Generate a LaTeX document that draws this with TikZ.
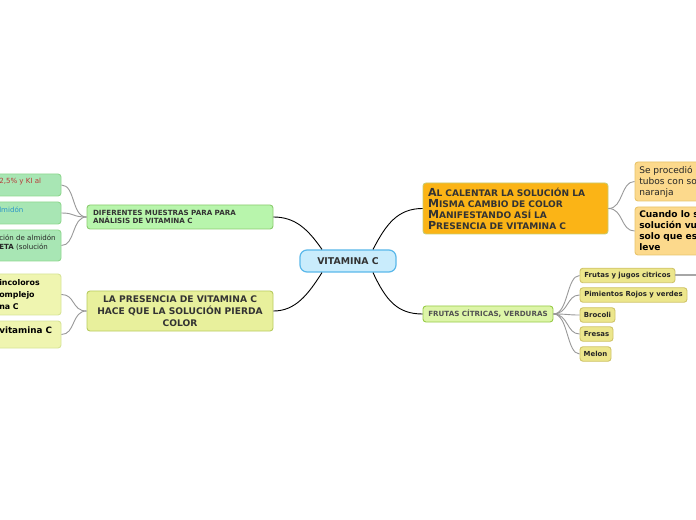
\documentclass[tikz,border=0pt]{standalone}
\usepackage{fontspec}
\setmainfont{DejaVu Sans}
\usetikzlibrary{calc}
\newdimen\px \px=0.75pt
\definecolor{vcfill}{HTML}{C9ECFC}\definecolor{vcdraw}{HTML}{5AB8EA}
\definecolor{diffill}{HTML}{B8F5AC}\definecolor{difdraw}{HTML}{8CCC70}
\definecolor{presfill}{HTML}{E8F09C}\definecolor{presdraw}{HTML}{B8CC60}
\definecolor{calfill}{HTML}{FBB416}\definecolor{caldraw}{HTML}{C8CC70}
\definecolor{frufill}{HTML}{DDF5A8}\definecolor{frudraw}{HTML}{98CC48}
\definecolor{fcfill}{HTML}{ECE68C}\definecolor{fcdraw}{HTML}{D0C468}
\definecolor{rcfill}{HTML}{FCD98C}\definecolor{rcdraw}{HTML}{E8C46A}
\definecolor{ldfill}{HTML}{A8E6B4}\definecolor{lddraw}{HTML}{90D890}
\definecolor{lpfill}{HTML}{EFF5B0}\definecolor{lpdraw}{HTML}{D8E498}
\definecolor{txt}{HTML}{333333}
\definecolor{redtxt}{HTML}{B83A3A}\definecolor{bluetxt}{HTML}{2A95C8}
\definecolor{subline}{HTML}{999999}
\newcommand\capA[1]{{\fontsize{8.3}{8}\selectfont #1}}
\tikzset{
  box/.style={rounded corners=3\px, line width=0.9\px, inner sep=0pt, text=txt, font=\bfseries},
  mainline/.style={line width=0.9\px, black},
  subl/.style={line width=0.9\px, subline},
  lbl/.style={inner sep=0pt, anchor=west, text=txt}
}
\begin{document}
\begin{tikzpicture}[x=0.75pt,y=-0.75pt]
\useasboundingbox (0,0) rectangle (696,520);
\fill[white] (0,0) rectangle (696,520);
\clip (0,0) rectangle (696,520);
% main nodes
\node[box, fill=vcfill, draw=vcdraw, line width=1.2\px, rounded corners=7\px, minimum width=96\px, minimum height=22\px, font=\fontsize{7}{8}\selectfont\bfseries] (vc) at (348,261) {VITAMINA C};
\node[box, fill=diffill, draw=difdraw, text width=174\px, inner xsep=6\px, minimum height=24\px, align=left, font=\fontsize{5.35}{6.6}\selectfont\bfseries] (dif) at (180,217) {DIFERENTES MUESTRAS PARA PARA\\ANÁLISIS DE VITAMINA C};
\node[box, fill=presfill, draw=presdraw, minimum width=186\px, minimum height=40\px, align=center, font=\fontsize{6.85}{9}\selectfont\bfseries] (pres) at (180,311) {LA PRESENCIA DE VITAMINA C\\HACE QUE LA SOLUCIÓN PIERDA\\COLOR};
\node[box, fill=calfill, draw=caldraw, text width=175\px, inner xsep=5\px, minimum height=51\px, align=left, text=txt, font=\fontsize{6.8}{8.25}\selectfont\bfseries] (cal) at (515.5,208.5) {\capA{A}L CALENTAR LA SOLUCIÓN LA\\\capA{M}ISMA CAMBIO DE COLOR\\\capA{M}ANIFESTANDO ASÍ LA\\\capA{P}RESENCIA DE VITAMINA C};
\node[box, fill=frufill, draw=frudraw, minimum width=130\px, minimum height=16\px, text=txt!85, font=\fontsize{5.35}{6}\selectfont\bfseries] (fru) at (488,314) {FRUTAS CÍTRICAS, VERDURAS};
% fruit children
\tikzset{fc/.style={box, fill=fcfill, draw=fcdraw, minimum height=14.5\px, text=black!85, font=\fontsize{5.2}{6}\selectfont\bfseries}}
\node[fc, minimum width=95\px] (f1) at (627.5,275.5) {Frutas y jugos citricos};
\node[fc, minimum width=107\px] (f2) at (633.5,295) {Pimientos Rojos y verdes};
\node[fc, minimum width=35\px] (f3) at (597.5,315) {Brocoli};
\node[fc, minimum width=33\px] (f4) at (596.5,334) {Fresas};
\node[fc, minimum width=31\px] (f5) at (595.5,354) {Melon};
\coordinate (f1out) at (710,275.5);
% right children (clipped)
\node[box, fill=rcfill, draw=rcdraw, minimum width=90\px, minimum height=39\px] (r1) at (680,181.5) {};
\node[box, fill=rcfill, draw=rcdraw, minimum width=90\px, minimum height=48\px] (r2) at (680,231) {};
\node[lbl, align=left, text=black!85, font=\fontsize{6.8}{8.25}\selectfont] (r1t) at (639,182) {Se procedió\\tubos con so\\naranja};
\node[lbl, align=left, text=black, font=\fontsize{6.8}{8.25}\selectfont\bfseries] (r2t) at (639,231) {Cuando lo s\\solución vu\\solo que es\\leve};
% left children of dif (clipped)
\node[box, fill=ldfill, draw=lddraw, minimum width=100\px, minimum height=22\px] (ld1) at (11,185) {};
\node[box, fill=ldfill, draw=lddraw, minimum width=100\px, minimum height=22\px] (ld2) at (11,213) {};
\node[box, fill=ldfill, draw=lddraw, minimum width=100\px, minimum height=31\px] (ld3) at (11,245.5) {};
\node[lbl, text=redtxt, font=\fontsize{5.3}{6.75}\selectfont] (ld1t) at (-1,182) {2,5\% y KI al};
\node[lbl, text=bluetxt, font=\fontsize{5.3}{6.75}\selectfont] (ld2t) at (-1,209.5) {lmidón};
\node[lbl, align=left, text=black!85, font=\fontsize{5.3}{6.75}\selectfont] (ld3t) at (-1,242.5) {ción de almidón\\\textbf{ETA} (solución};
% left children of pres (clipped)
\node[box, fill=lpfill, draw=lpdraw, minimum width=100\px, minimum height=41\px] (lp1) at (11,294.5) {};
\node[box, fill=lpfill, draw=lpdraw, minimum width=100\px, minimum height=27\px] (lp2) at (11,334.5) {};
\node[lbl, align=left, text=black, font=\fontsize{5.9}{9}\selectfont\bfseries] (lp1t) at (-1,295) {incoloros\\omplejo\\na C};
\node[lbl, text=black, font=\fontsize{6.6}{8}\selectfont\bfseries] (lp2t) at (-1,330.5) {vitamina C};
% main connectors
\draw[mainline] ($(vc.north)+(-26,0)$) .. controls ($(vc.north)+(-40,-20)$) and ($(dif.east)+(22,0)$) .. (dif.east);
\draw[mainline] ($(vc.north)+(25,0)$) .. controls ($(vc.north)+(38,-25)$) and ($(cal.west)+(-25,0)$) .. (cal.west);
\draw[mainline] ($(vc.south)+(-26,0)$) .. controls ($(vc.south)+(-40,22)$) and ($(pres.east)+(22,0)$) .. (pres.east);
\draw[mainline] ($(vc.south)+(25,0)$) .. controls ($(vc.south)+(38,28)$) and ($(fru.west)+(-25,0)$) .. (fru.west);
% sub connectors
\foreach \c in {ld1,ld2,ld3}{\draw[subl] (dif.west) .. controls ($(dif.west)+(-15,0)$) and ($(\c.east)+(14,0)$) .. (\c.east);}
\foreach \c in {lp1,lp2}{\draw[subl] (pres.west) .. controls ($(pres.west)+(-15,0)$) and ($(\c.east)+(14,0)$) .. (\c.east);}
\foreach \c in {r1,r2}{\draw[subl] (cal.east) .. controls ($(cal.east)+(15,0)$) and ($(\c.west)+(-14,0)$) .. (\c.west);}
\foreach \c in {f1,f2,f3,f4,f5}{\draw[subl] (fru.east) .. controls ($(fru.east)+(15,0)$) and ($(\c.west)+(-13,0)$) .. (\c.west);}
\draw[line width=2\px, black!35] (f1.east) -- (f1out);
\end{tikzpicture}
\end{document}
